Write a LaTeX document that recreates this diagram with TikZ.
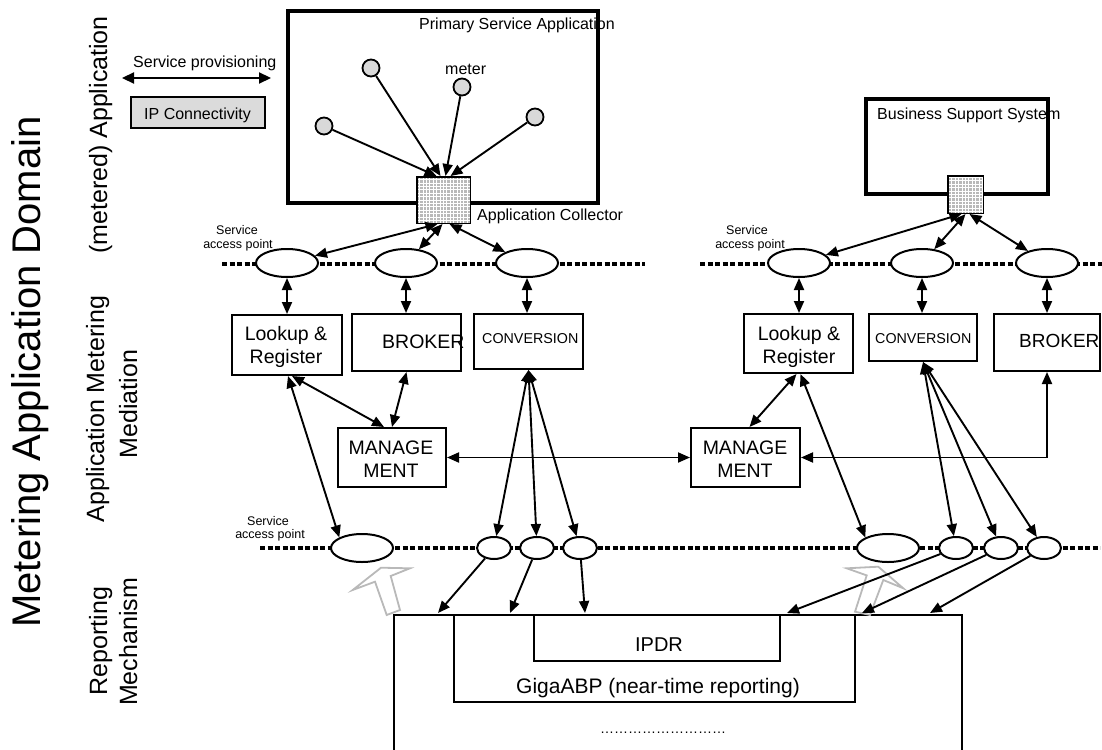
\documentclass[tikz,border=0pt]{standalone}
\usepackage{fontspec}
\setmainfont{Liberation Sans}
\usetikzlibrary{arrows.meta,shapes.geometric}
\begin{document}
\begin{tikzpicture}[x=1pt,y=-1pt,
  every node/.style={inner sep=0pt},
  >={Triangle[length=12pt,width=10pt]},
  thickbox/.style={draw, line width=4pt},
  box/.style={draw, line width=2pt},
  sap/.style={draw, ellipse, line width=2pt, fill=white, minimum width=62pt, minimum height=28pt},
  sapsm/.style={sap, minimum width=34pt, minimum height=22pt},
  meter/.style={draw, circle, line width=1.8pt, fill=gray!30, minimum size=17pt},
  collector/.style={draw, line width=1.5pt, fill=gray!55,
    path picture={\draw[white, line width=0.9pt]
      (path picture bounding box.south west) grid[step=3.4pt]
      (path picture bounding box.north east);}},
  link/.style={line width=1.9pt, ->},
  dlink/.style={line width=1.9pt, <->},
  sapline/.style={line width=4pt, dash pattern=on 5pt off 2.5pt},
  hollow/.style={draw=gray!55, line width=1.8pt, fill=white, line join=miter},
  t16/.style={font=\fontsize{16}{19}\selectfont},
  t19/.style={font=\fontsize{19.5}{23}\selectfont, align=center},
  tsap/.style={font=\fontsize{12.5}{14}\selectfont, align=center},
  layer/.style={rotate=90, anchor=base, font=\fontsize{25}{30}\selectfont},
]
\useasboundingbox (0,0) rectangle (1102,749);

% ---------- layer labels ----------
\node[rotate=90, anchor=base, font=\fontsize{40}{48}\selectfont] (domain) at (40,372) {Metering Application Domain};
\node[layer] (layA) at (107,135) {(metered) Application};
\node[layer] (layB1) at (104,409) {Application Metering};
\node[layer] (layB2) at (137,404) {Mediation};
\node[layer] (layC1) at (107,641) {Reporting};
\node[layer] (layC2) at (137,642) {Mechanism};

% ---------- legend ----------
\coordinate (spL) at (122,78);
\coordinate (spR) at (271,78);
\draw[line width=2.2pt, {Triangle[length=12pt,width=11pt]}-{Triangle[length=12pt,width=11pt]}] (spL) -- (spR);
\node[t16, anchor=base west] (spT) at (133,68) {Service provisioning};
\node[box, fill=gray!28, minimum width=134pt, minimum height=31pt] (ipc) at (198,112.5) {};
\node[t16, anchor=base west] (ipcT) at (144,120) {IP Connectivity};

% ---------- applications ----------
\node[thickbox, minimum width=310pt, minimum height=192pt] (psa) at (443,107) {};
\node[t16, anchor=base west] (psaT) at (419,30) {Primary Service Application};
\node[thickbox, minimum width=182pt, minimum height=95pt] (bss) at (957,146.5) {};
\node[t16, anchor=base west] (bssT) at (877,120) {Business Support System};

\node[meter] (m1) at (324,126) {};
\node[meter] (m2) at (371,68) {};
\node[meter] (m3) at (462,87) {};
\node[meter] (m4) at (535,117) {};
\node[t16, anchor=base west] (meterT) at (445,75) {meter};

\node[collector, minimum width=53.5pt, minimum height=46.5pt] (acol) at (443.5,200) {};
\node[t16, anchor=base west] (acolT) at (477,220) {Application Collector};
\node[collector, minimum width=35.5pt, minimum height=37.5pt] (bsc) at (965.5,194.5) {};

\draw[link] (m1) -- ([xshift=-7pt]acol.north);
\draw[link] (m2) -- ([xshift=-3pt]acol.north);
\draw[link] (m3) -- ([xshift=2pt]acol.north);
\draw[link] (m4) -- ([xshift=7pt]acol.north);

% ---------- service access point lines ----------
\coordinate (sa1) at (222,264);  \coordinate (sa2) at (645,264);
\coordinate (sa3) at (700,264);  \coordinate (sa4) at (1102,264);
\coordinate (sa5) at (260,548);  \coordinate (sa6) at (1100,548);
\draw[sapline] (sa1) -- (sa2);
\draw[sapline] (sa3) -- (sa4);
\draw[sapline] (sa5) -- (sa6);

\node[sap] (tl1) at (287,263) {};
\node[sap] (tl2) at (406,263) {};
\node[sap] (tl3) at (527,263) {};
\node[sap] (tr1) at (799,263) {};
\node[sap] (tr2) at (922,263) {};
\node[sap] (tr3) at (1047,263) {};

\node[sap] (bl1) at (362,548) {};
\node[sapsm] (bs1) at (494,548) {};
\node[sapsm] (bs2) at (537,548) {};
\node[sapsm] (bs3) at (580,548) {};
\node[sap] (br1) at (888,548) {};
\node[sapsm] (brs1) at (956,548) {};
\node[sapsm] (brs2) at (1001,548) {};
\node[sapsm] (brs3) at (1044,548) {};

\node[tsap, anchor=base] (sapT1a) at (237,234) {Service};
\node[tsap, anchor=base] (sapT1b) at (238,248) {access point};
\node[tsap, anchor=base] (sapT2a) at (747,234) {Service};
\node[tsap, anchor=base] (sapT2b) at (750,248) {access point};
\node[tsap, anchor=base] (sapT3a) at (268,525) {Service};
\node[tsap, anchor=base] (sapT3b) at (270,538) {access point};

% ---------- mediation ----------
\node[box, minimum width=110pt, minimum height=60pt] (lk1) at (287,345) {};
\node[t19, anchor=base] (lk1a) at (286,340) {Lookup \&};
\node[t19, anchor=base] (lk1b) at (286,363) {Register};
\node[box, minimum width=109pt, minimum height=57pt] (bk1) at (406.5,342.5) {};
\node[t19, anchor=base west] (bk1T) at (382,348) {BROKER};
\node[box, minimum width=109pt, minimum height=55pt] (cv1) at (528.5,341.5) {};
\node[font=\fontsize{14.3}{17}\selectfont, anchor=base west] (cv1T) at (482,343) {CONVERSION};
\node[box, minimum width=108pt, minimum height=59pt] (mg1) at (392,457.5) {};
\node[t19, anchor=base] (mg1a) at (391,454) {MANAGE};
\node[t19, anchor=base] (mg1b) at (391,477) {MENT};

\node[box, minimum width=109pt, minimum height=59pt] (lk2) at (798.5,343.5) {};
\node[t19, anchor=base] (lk2a) at (799,340) {Lookup \&};
\node[t19, anchor=base] (lk2b) at (799,363) {Register};
\node[box, minimum width=108pt, minimum height=47pt] (cv2) at (923,337.5) {};
\node[font=\fontsize{14.3}{17}\selectfont, anchor=base west] (cv2T) at (875,343) {CONVERSION};
\node[box, minimum width=106pt, minimum height=57pt] (bk2) at (1047,342.5) {};
\node[font=\fontsize{19}{23}\selectfont, anchor=base west] (bk2T) at (1019,347) {BROKER};
\node[box, minimum width=109pt, minimum height=59pt] (mg2) at (745.5,457.5) {};
\node[t19, anchor=base] (mg2a) at (745,454) {MANAGE};
\node[t19, anchor=base] (mg2b) at (745,477) {MENT};

% ---------- reporting ----------
\node[box, minimum width=568pt, minimum height=164pt] (rep) at (678,697) {};
\node[box, minimum width=401pt, minimum height=87pt] (gig) at (654.5,658.5) {};
\node[box, minimum width=246pt, minimum height=46pt] (ipdr) at (657,638) {};
\node[font=\fontsize{20}{24}\selectfont, anchor=base] (ipdrT) at (659,651) {IPDR};
\node[font=\fontsize{21}{25}\selectfont, anchor=base] (gigT) at (658,693) {GigaABP (near-time reporting)};
\node[font=\fontsize{14}{16}\selectfont, anchor=base] (dotsT) at (663,733) {………………………};

% hollow arrows pointing up at the access points
\draw[hollow] (352.7,590) -- (381,567.7) -- (410,568.3) -- (390.7,576) -- (400,610)
  -- (386.7,615) -- (375,581.7) -- cycle;
\draw[hollow] (846.7,568.3) -- (878.3,566.7) -- (903.3,588.3) -- (883.3,580) -- (870,615)
  -- (855,611.7) -- (866.7,575.4) -- cycle;

% ---------- connectors ----------
\draw[dlink] ([xshift=-6pt]acol.south) -- (tl1);
\draw[dlink] ([xshift=-1pt]acol.south) -- (tl2);
\draw[dlink] ([xshift=6pt]acol.south) -- (tl3);
\draw[dlink] ([xshift=-4pt]bsc.south) -- (tr1);
\draw[dlink] (bsc.south) -- (tr2);
\draw[dlink] ([xshift=4pt]bsc.south) -- (tr3);

\draw[dlink] (tl1.south) -- (lk1.north);
\draw[dlink] (tl2.south) -- (tl2.south |- bk1.north);
\draw[dlink] (tl3.south) -- (tl3.south |- cv1.north);
\draw[dlink] (tr1.south) -- (tr1.south |- lk2.north);
\draw[dlink] (tr2.south) -- (tr2.south |- cv2.north);
\draw[dlink] (tr3.south) -- (tr3.south |- bk2.north);

\draw[dlink] ([xshift=5pt]lk1.south) -- ([xshift=-8pt]mg1.north);
\draw[dlink] (bk1.south) -- (mg1.north);
\draw[dlink] ([xshift=1pt]lk1.south) -- (bl1.155);
\draw[dlink] (cv1.south) -- (bs1);
\draw[dlink] (cv1.south) -- (bs2);
\draw[dlink] (cv1.south) -- (bs3);
\draw[dlink] (mg1.east) -- (mg2.west);

\draw[dlink] ([xshift=-2pt]lk2.south) -- ([xshift=4pt]mg2.north);
\draw[dlink] ([xshift=2pt]lk2.south) -- (br1.155);
\draw[dlink] (bk2.south) |- (mg2.east);
\draw[dlink] (cv2.south) -- (brs1);
\draw[dlink] (cv2.south) -- (brs2);
\draw[dlink] (cv2.south) -- (brs3);

\coordinate (rt1) at (438,613);
\coordinate (rt2) at (510,613);
\coordinate (rt3) at (585,613);
\coordinate (rt4) at (787,613);
\coordinate (rt5) at (862,613);
\coordinate (rt6) at (930,613);
\draw[link] (bs1) -- (rt1);
\draw[link] (bs2) -- (rt2);
\draw[link] (bs3) -- (rt3);
\draw[link] (brs1) -- (rt4);
\draw[link] (brs2) -- (rt5);
\draw[link] (brs3) -- (rt6);
\end{tikzpicture}
\end{document}
